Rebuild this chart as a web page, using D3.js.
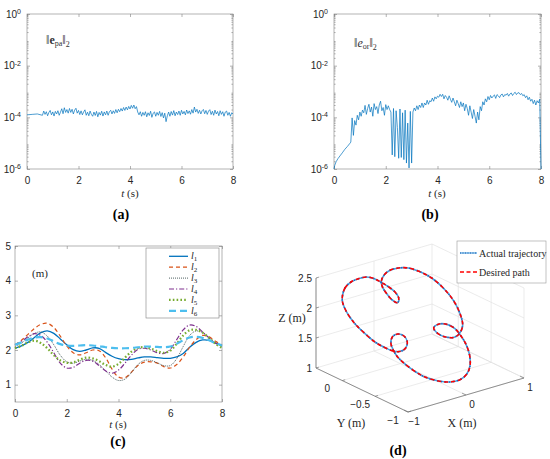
<!DOCTYPE html>
<html>
<head>
<meta charset="utf-8">
<script src="https://cdn.jsdelivr.net/npm/d3@7"></script>
<style>body{margin:0;background:#fff}</style>
</head>
<body>
<script>
// ---------- data ----------
// (a) ||e_pa||_2, values in units of 1e-4
var ePaStartT = [0, 0.2, 0.4];
var ePaStart = [1.25, 1.30, 1.35];
var ePa = [ // every 0.05 s from 0.6 s
  1.20, 1.75, 1.30, 1.65, 1.15, 1.55, 1.85, 1.25, 1.62, 1.12,
  1.70, 1.35, 1.80, 1.20, 1.58, 2.15, 1.38, 2.35, 1.55, 2.00,
  1.45, 2.20, 1.55, 2.05, 1.35, 1.90, 2.25, 1.45, 1.85, 1.28,
  1.78, 1.25, 1.62, 1.95, 1.20, 1.58, 1.15, 1.75, 1.30, 1.10,
  1.60, 1.18, 1.70, 1.05, 1.55, 1.22, 1.72, 1.12, 1.62, 1.25,
  1.75, 1.20, 1.65, 1.88, 1.35, 1.80, 1.42, 2.00, 1.50, 2.05,
  1.65, 2.20, 1.75, 2.40, 1.85, 2.50, 1.95, 2.65, 2.10, 2.90,
  2.25, 3.00, 2.15, 2.60, 1.60, 1.25, 1.65, 1.10, 1.55, 1.20,
  1.65, 1.05, 1.50, 1.18, 1.72, 1.00, 1.45, 1.62, 1.10, 1.55,
  1.20, 1.70, 1.08, 1.52, 0.95, 1.45, 0.68, 1.15, 1.60, 1.10,
  1.68, 1.22, 1.82, 1.15, 1.60, 1.28, 1.75, 1.20, 1.88, 1.35,
  1.70, 1.25, 1.92, 1.40, 1.78, 1.32, 2.00, 1.45, 2.50, 1.60,
  2.05, 1.42, 1.88, 1.35, 1.80, 2.02, 1.38, 1.85, 1.30, 1.75,
  1.98, 1.28, 1.72, 1.20, 1.90, 1.35, 1.68, 1.15, 1.80, 1.30,
  1.65, 1.10, 1.60, 1.75, 1.20, 1.55, 1.10, 1.50, 1.35
];

// (b) ||e_or||_2, values in units of 1e-4
var eOrStartT = [0, 0.03, 0.08, 0.15, 0.23, 0.32, 0.42, 0.52, 0.62];
var eOrStart = [0.01, 0.014, 0.019, 0.025, 0.032, 0.042, 0.058, 0.075, 0.1];
var eOr = [ // every 0.05 s from 0.65 s
  0.11, 0.95, 0.20, 0.75, 0.50, 1.20, 0.80, 1.60, 1.10, 1.90,
  1.50, 2.90, 1.30, 2.20, 3.20, 1.60, 2.50, 1.10, 3.40, 2.00,
  2.60, 1.40, 3.00, 4.20, 1.80, 2.40, 1.20, 3.10, 2.00, 2.80,
  2.00, 1.60, 0.035, 2.20, 0.030, 1.80, 0.40, 0.026, 2.10, 0.028,
  1.50, 0.023, 1.90, 0.017, 0.60, 0.011, 1.70, 0.017, 1.60, 2.30,
  1.80, 2.80, 2.00, 3.00, 2.40, 3.60, 2.40, 3.60, 3.00, 4.60,
  3.20, 4.40, 4.00, 5.60, 4.20, 6.20, 5.20, 6.60, 6.00, 7.80,
  6.40, 7.80, 5.20, 7.00, 6.00, 4.60, 6.80, 5.00, 3.80, 5.60,
  4.00, 2.80, 4.60, 3.40, 2.40, 4.00, 2.60, 3.60, 1.80, 3.20,
  2.20, 1.20, 2.80, 1.60, 0.90, 2.00, 1.10, 0.60, 1.60, 0.80,
  2.60, 1.80, 4.00, 3.00, 5.20, 4.00, 6.40, 4.80, 7.00, 5.60,
  6.60, 7.40, 5.40, 7.60, 6.80, 5.80, 7.40, 8.00, 6.20, 7.60,
  7.20, 8.40, 6.60, 8.00, 8.80, 7.00, 8.40, 9.40, 7.60, 8.80,
  9.00, 7.60, 8.40, 6.80, 7.60, 5.80, 6.80, 4.80, 6.00, 4.20,
  5.00, 3.40, 4.60, 3.00, 4.40, 3.60, 5.00
];
var eOrEndT = [8.0];
var eOrEnd = [0.01];

// (c) cable lengths (m), every 0.25 s
var lenT = d3.range(0, 8.01, 0.25);
var l1 = [2.05,2.12,2.22,2.36,2.50,2.55,2.48,2.32,2.15,2.01,1.96,2.00,2.06,2.05,1.93,1.82,1.75,1.72,1.73,1.77,1.80,1.80,1.78,1.76,1.76,1.80,1.90,2.08,2.22,2.29,2.28,2.20,2.12];
var l2 = [2.15,2.28,2.45,2.62,2.74,2.77,2.65,2.40,2.12,1.92,1.86,1.92,2.00,1.98,1.78,1.45,1.22,1.20,1.36,1.55,1.65,1.66,1.62,1.52,1.48,1.58,1.80,2.08,2.30,2.42,2.38,2.25,2.15];
var l3 = [2.10,2.20,2.35,2.48,2.52,2.40,2.15,1.85,1.66,1.62,1.68,1.73,1.70,1.58,1.40,1.22,1.12,1.16,1.35,1.58,1.70,1.70,1.63,1.55,1.55,1.75,2.10,2.42,2.55,2.50,2.35,2.20,2.10];
var l4 = [2.15,2.25,2.38,2.47,2.42,2.22,1.92,1.62,1.48,1.50,1.62,1.70,1.68,1.55,1.40,1.33,1.42,1.62,1.85,2.02,2.05,2.00,1.92,1.90,2.02,2.30,2.58,2.72,2.68,2.52,2.35,2.20,2.12];
var l5 = [2.05,2.12,2.22,2.27,2.20,2.05,1.85,1.70,1.63,1.64,1.72,1.78,1.76,1.68,1.57,1.52,1.60,1.78,1.95,2.06,2.08,2.04,1.97,1.92,1.98,2.18,2.42,2.57,2.58,2.50,2.35,2.18,2.06];
var l6 = [2.15,2.22,2.30,2.36,2.37,2.33,2.25,2.17,2.13,2.12,2.13,2.14,2.13,2.11,2.08,2.06,2.05,2.05,2.06,2.08,2.10,2.10,2.09,2.08,2.10,2.18,2.28,2.36,2.38,2.35,2.28,2.20,2.13];
var lenNames = ["1", "2", "3", "4", "5", "6"];

// (d) 3D path (m)
var pathX = [-0.815,-0.700,-0.569,-0.445,-0.324,-0.242,-0.192,-0.137,-0.100,-0.108,
  -0.163,-0.207,-0.221,-0.215,-0.177,-0.079,0.033,0.160,0.287,0.392,
  0.493,0.550,0.566,0.530,0.458,0.347,0.243,0.136,0.067,0.065,
  0.169,0.273,0.330,0.340,0.330,0.275,0.182,0.064,-0.069,-0.217,
  -0.356,-0.490,-0.577,-0.635,-0.658,-0.649,-0.620,-0.542,-0.447,-0.385,
  -0.397,-0.472,-0.566,-0.647,-0.727,-0.808,-0.862,-0.898,-0.896,-0.862];
var pathY = [0.163,0.224,0.248,0.245,0.225,0.181,0.129,0.061,-0.008,-0.071,
  -0.104,-0.061,0.012,0.079,0.132,0.173,0.185,0.171,0.131,0.061,
  -0.043,-0.169,-0.308,-0.441,-0.545,-0.597,-0.608,-0.571,-0.509,-0.451,
  -0.440,-0.480,-0.541,-0.599,-0.704,-0.813,-0.900,-0.953,-0.969,-0.948,
  -0.893,-0.808,-0.708,-0.607,-0.531,-0.472,-0.405,-0.357,-0.355,-0.396,
  -0.457,-0.499,-0.505,-0.480,-0.419,-0.328,-0.213,-0.093,0.025,0.116];
var pathZ = [2.255,2.340,2.391,2.413,2.417,2.389,2.346,2.288,2.225,2.161,
  2.116,2.150,2.222,2.290,2.352,2.413,2.448,2.458,2.443,2.394,
  2.309,2.192,2.055,1.913,1.793,1.719,1.687,1.703,1.752,1.811,
  1.842,1.823,1.772,1.716,1.607,1.486,1.380,1.302,1.259,1.251,
  1.279,1.338,1.422,1.513,1.585,1.646,1.720,1.784,1.805,1.776,
  1.712,1.655,1.629,1.639,1.685,1.760,1.866,1.980,2.100,2.199];

var tTicks = [0, 2, 4, 6, 8];
var logTicks = [1e-6, 1e-4, 1e-2, 1];
var lenTicks = [1, 2, 3, 4, 5];
var x3Ticks = [-1, 0, 1], y3Ticks = [-1, -0.5, 0], z3Ticks = [1, 1.5, 2, 2.5];

// ---------- drawing ----------
var w = 550, h = 459;
var sans = "'Liberation Sans', Arial, sans-serif",
    serif = "'Liberation Serif', 'DejaVu Serif', serif";
var axisGray = "#808080", ink = "#262626";

var svg = d3.select("body").append("svg").attr("width", w).attr("height", h)
  .style("background", "#fff").style("display", "block");

function styleAxis(g) {
  g.select(".domain").remove();
  g.selectAll(".tick line").attr("stroke", axisGray).attr("stroke-width", 0.6);
  g.selectAll(".tick text").attr("fill", ink).attr("font-family", sans).attr("font-size", 10);
}

function frame(x, y, yVals, yFmt) {
  var r = x.range(), d = y.range();
  svg.append("rect").attr("x", r[0]).attr("y", d[1])
    .attr("width", r[1] - r[0]).attr("height", d[0] - d[1])
    .attr("fill", "none").attr("stroke", axisGray).attr("stroke-width", 0.6);
  svg.append("g").attr("transform", "translate(0," + d[0] + ")")
    .call(d3.axisBottom(x).tickValues(tTicks).tickSize(-3).tickPadding(8)).call(styleAxis);
  svg.append("g").attr("transform", "translate(0," + d[1] + ")")
    .call(d3.axisTop(x).tickValues(tTicks).tickSize(-3).tickFormat("")).call(styleAxis);
  var left = svg.append("g").attr("transform", "translate(" + r[0] + ",0)")
    .call(d3.axisLeft(y).tickValues(yVals).tickSize(-3).tickPadding(4).tickFormat(yFmt)).call(styleAxis);
  svg.append("g").attr("transform", "translate(" + r[1] + ",0)")
    .call(d3.axisRight(y).tickValues(yVals).tickSize(-3).tickFormat("")).call(styleAxis);
  return left;
}

function logFrame(x, y) {
  var left = frame(x, y, logTicks, function() { return "10"; });
  left.attr("transform", "translate(" + (x.range()[0] - 2) + ",0)");
  left.selectAll(".tick line").attr("x1", 2).attr("x2", 5);
  left.selectAll(".tick text").append("tspan")
    .attr("dy", "-0.55em").attr("font-size", 7)
    .text(function(d) { return Math.round(Math.log10(d)); });
  var minor = [];
  for (var k = -6; k < 0; k++) for (var m = 2; m < 10; m++) minor.push(m * Math.pow(10, k));
  var r = x.range();
  svg.append("g").attr("transform", "translate(" + r[0] + ",0)")
    .call(d3.axisLeft(y).tickValues(minor).tickSize(-1.6).tickFormat("")).call(styleAxis);
  svg.append("g").attr("transform", "translate(" + r[1] + ",0)")
    .call(d3.axisRight(y).tickValues(minor).tickSize(-1.6).tickFormat("")).call(styleAxis);
}

function tLabel(cx, cy) {
  var t = svg.append("text").attr("x", cx).attr("y", cy).attr("text-anchor", "middle")
    .attr("font-family", serif).attr("font-size", 11).attr("fill", ink);
  t.append("tspan").attr("font-style", "italic").text("t");
  t.append("tspan").text(" (s)");
}

function panelLabel(cx, cy, s) {
  svg.append("text").attr("x", cx).attr("y", cy).attr("text-anchor", "middle")
    .attr("font-family", serif).attr("font-weight", "bold").attr("font-size", 14)
    .attr("fill", "#000").text(s);
}

function normLabel(x0, y0, sub, bold) {
  var t = svg.append("text").attr("x", x0).attr("y", y0)
    .attr("font-family", serif).attr("font-size", 12).attr("fill", "#333");
  t.append("tspan").text("\u2016");
  t.append("tspan").attr("font-weight", bold ? "bold" : null)
    .attr("font-style", bold ? null : "italic").text("e");
  t.append("tspan").attr("font-size", 8).attr("dy", 2).text(sub);
  t.append("tspan").attr("dy", -2).text("\u2016");
  t.append("tspan").attr("font-size", 8).attr("dy", 3).text("2");
}

// ----- (a) -----
var xa = d3.scaleLinear().domain([0, 8]).range([27, 233]);
var ya = d3.scaleLog().domain([1e-6, 1]).range([169, 14]);
logFrame(xa, ya);
var aPts = ePaStartT.map(function(t, i) { return [t, ePaStart[i]]; })
  .concat(ePa.map(function(v, i) { return [0.6 + 0.05 * i, v]; }));
svg.append("path").datum(aPts)
  .attr("d", d3.line().x(function(d) { return xa(d[0]); }).y(function(d) { return ya(d[1] * 1e-4); }))
  .attr("fill", "none").attr("stroke", "#0072BD").attr("stroke-width", 0.7);
normLabel(46, 44, "pa", true);
tLabel(130, 197);
panelLabel(121, 219, "(a)");

// ----- (b) -----
var xb = d3.scaleLinear().domain([0, 8]).range([334, 541]);
var yb = d3.scaleLog().domain([1e-6, 1]).range([169, 14]);
logFrame(xb, yb);
var bPts = eOrStartT.map(function(t, i) { return [t, eOrStart[i]]; })
  .concat(eOr.map(function(v, i) { return [0.65 + 0.05 * i, v]; }))
  .concat(eOrEndT.map(function(t, i) { return [t, eOrEnd[i]]; }));
svg.append("path").datum(bPts)
  .attr("d", d3.line().x(function(d) { return xb(d[0]); }).y(function(d) { return yb(d[1] * 1e-4); }))
  .attr("fill", "none").attr("stroke", "#0072BD").attr("stroke-width", 0.7);
normLabel(354, 47, "or", false);
tLabel(437, 197);
panelLabel(430, 219, "(b)");

// ----- (c) -----
var xc = d3.scaleLinear().domain([0, 8]).range([15, 222]);
var yc = d3.scaleLinear().domain([0.5, 5]).range([402, 246]);
frame(xc, yc, lenTicks, d3.format("d"));
var lenSeries = [l1, l2, l3, l4, l5, l6];
var lenStyle = [
  { c: "#0072BD", w: 1.3, dash: null },
  { c: "#D95319", w: 1.2, dash: "4,3" },
  { c: "#4f6262", w: 1.0, dash: "1,1" },
  { c: "#7E2F8E", w: 1.2, dash: "5,2,1.2,2" },
  { c: "#77AC30", w: 2.2, dash: "1.6,2.2" },
  { c: "#4DBEEE", w: 2.2, dash: "7,4" }
];
var lenLine = d3.line().curve(d3.curveCatmullRom)
  .x(function(d, i) { return xc(lenT[i]); }).y(function(d) { return yc(d); });
lenSeries.forEach(function(s, k) {
  svg.append("path").datum(s).attr("d", lenLine).attr("fill", "none")
    .attr("stroke", lenStyle[k].c).attr("stroke-width", lenStyle[k].w)
    .attr("stroke-dasharray", lenStyle[k].dash);
});
svg.append("text").attr("x", 32).attr("y", 277).attr("font-family", serif)
  .attr("font-size", 11).attr("fill", ink).text("(m)");
// legend
svg.append("rect").attr("x", 146).attr("y", 248).attr("width", 73).attr("height", 70)
  .attr("fill", "#fff").attr("stroke", axisGray).attr("stroke-width", 0.6);
lenNames.forEach(function(n, k) {
  var ly = 256.3 + k * 10.9;
  svg.append("line").attr("x1", 169).attr("x2", 188).attr("y1", ly).attr("y2", ly)
    .attr("stroke", lenStyle[k].c).attr("stroke-width", lenStyle[k].w)
    .attr("stroke-dasharray", lenStyle[k].dash);
  var t = svg.append("text").attr("x", 191).attr("y", ly + 3).attr("font-family", serif)
    .attr("font-size", 10).attr("fill", ink);
  t.append("tspan").attr("font-style", "italic").text("l");
  t.append("tspan").attr("font-size", 7).attr("dy", 2).text(n);
});
tLabel(118, 428);
panelLabel(118, 446, "(c)");

// ----- (d) 3D -----
var gx = d3.scaleLinear().domain([-1, 1]).range([0, 1]),
    gy = d3.scaleLinear().domain([-1, 0.4]).range([0, 1]),
    gz = d3.scaleLinear().domain([1, 2.5]).range([0, 1]);
var o3 = [408, 412], ex = [116, -34], ey = [-92, -44], ez = [0, -90];
function proj(x, y, z) {
  var u = gx(x), v = gy(y), q = gz(z);
  return [o3[0] + u * ex[0] + v * ey[0] + q * ez[0], o3[1] + u * ex[1] + v * ey[1] + q * ez[1]];
}
function seg(a, b, col, sw) {
  svg.append("line").attr("x1", a[0]).attr("y1", a[1]).attr("x2", b[0]).attr("y2", b[1])
    .attr("stroke", col).attr("stroke-width", sw);
}
var gridCol = "#dedede";
var xl = gx.domain(), yl = gy.domain(), zl = gz.domain();
x3Ticks.forEach(function(x) {
  seg(proj(x, yl[0], zl[0]), proj(x, yl[1], zl[0]), gridCol, 0.6);
  seg(proj(x, yl[1], zl[0]), proj(x, yl[1], zl[1]), gridCol, 0.6);
});
y3Ticks.forEach(function(y) {
  seg(proj(xl[0], y, zl[0]), proj(xl[1], y, zl[0]), gridCol, 0.6);
  seg(proj(xl[1], y, zl[0]), proj(xl[1], y, zl[1]), gridCol, 0.6);
});
z3Ticks.forEach(function(z) {
  seg(proj(xl[0], yl[1], z), proj(xl[1], yl[1], z), gridCol, 0.6);
  seg(proj(xl[1], yl[0], z), proj(xl[1], yl[1], z), gridCol, 0.6);
});
var ax3 = "#666";
seg(proj(xl[0], yl[1], zl[0]), proj(xl[0], yl[1], zl[1]), ax3, 0.7);
seg(proj(xl[0], yl[0], zl[0]), proj(xl[0], yl[1], zl[0]), ax3, 0.7);
seg(proj(xl[0], yl[0], zl[0]), proj(xl[1], yl[0], zl[0]), ax3, 0.7);

function lab3(p, dx, dy, s, anchor) {
  svg.append("text").attr("x", p[0] + dx).attr("y", p[1] + dy).attr("dy", "0.35em")
    .attr("text-anchor", anchor).attr("font-family", sans).attr("font-size", 10)
    .attr("fill", ink).text(s);
}
var fmt3 = function(v) { return String(v).replace("-", "\u2212"); };
z3Ticks.forEach(function(z) {
  seg(proj(xl[0], yl[1], z), proj(xl[0] + 0.05, yl[1], z), ax3, 0.6);
  lab3(proj(xl[0], yl[1], z), -4, 0, fmt3(z), "end");
});
y3Ticks.forEach(function(y) {
  seg(proj(xl[0], y, zl[0]), proj(xl[0] + 0.05, y, zl[0]), ax3, 0.6);
  lab3(proj(xl[0], y, zl[0]), -15, 8, fmt3(y), "middle");
});
x3Ticks.forEach(function(x) {
  seg(proj(x, yl[0], zl[0]), proj(x, yl[0] + 0.06, zl[0]), ax3, 0.6);
  lab3(proj(x, yl[0], zl[0]), 6, 9, fmt3(x), "middle");
});
function axTitle(cx, cy, s) {
  svg.append("text").attr("x", cx).attr("y", cy).attr("text-anchor", "middle")
    .attr("font-family", serif).attr("font-size", 12).attr("fill", ink).text(s);
}
axTitle(292, 322, "Z (m)");
axTitle(351, 427, "Y (m)");
axTitle(462, 427, "X (m)");

var pts3 = pathX.map(function(x, i) { return proj(x, pathY[i], pathZ[i]); });
var line3 = d3.line().curve(d3.curveCatmullRomClosed);
svg.append("path").datum(pts3).attr("d", line3).attr("fill", "none")
  .attr("stroke", "#4aa0e0").attr("stroke-width", 1.6);
svg.append("path").datum(pts3).attr("d", line3).attr("fill", "none")
  .attr("stroke", "#1f5fb0").attr("stroke-width", 1.6).attr("stroke-dasharray", "1,3");
svg.append("path").datum(pts3).attr("d", line3).attr("fill", "none")
  .attr("stroke", "#ff0000").attr("stroke-width", 1.6).attr("stroke-dasharray", "4,3");

// legend (d)
svg.append("rect").attr("x", 457).attr("y", 241).attr("width", 89).attr("height", 42)
  .attr("fill", "#fff").attr("stroke", "#999").attr("stroke-width", 0.6);
seg([460, 253], [477, 253], "#4aa0e0", 1.2);
svg.append("line").attr("x1", 460).attr("x2", 477).attr("y1", 253).attr("y2", 253)
  .attr("stroke", "#1f5fb0").attr("stroke-width", 1.2).attr("stroke-dasharray", "1,1.5");
svg.append("line").attr("x1", 460).attr("x2", 477).attr("y1", 272).attr("y2", 272)
  .attr("stroke", "#ff0000").attr("stroke-width", 1.4).attr("stroke-dasharray", "4,2.5");
svg.append("text").attr("x", 479).attr("y", 256.5).attr("font-family", serif)
  .attr("font-size", 10).attr("fill", ink).text("Actual trajectory");
svg.append("text").attr("x", 479).attr("y", 275.5).attr("font-family", serif)
  .attr("font-size", 10).attr("fill", ink).text("Desired path");
panelLabel(398, 455, "(d)");
</script>
</body>
</html>
